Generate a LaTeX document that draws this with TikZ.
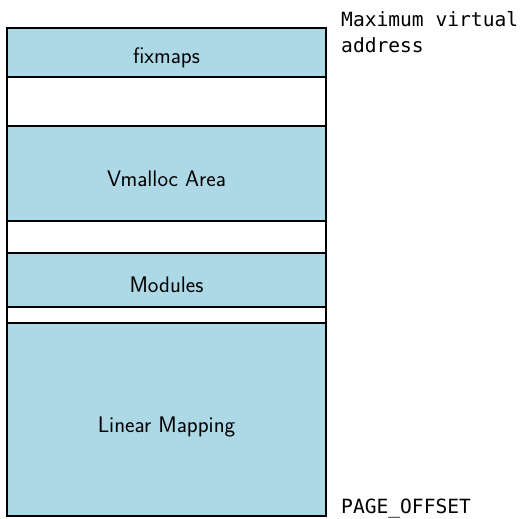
\documentclass[tikz,border=0pt]{standalone}
\usepackage{fontspec}
\newfontfamily\labelmono{DejaVu Sans Mono}
\definecolor{regionblue}{RGB}{173,216,230}
\begin{document}
\begin{tikzpicture}[x=1pt,y=-1pt,
  region/.style={draw=black,line width=2pt,fill=regionblue},
  gap/.style={draw=black,line width=2pt,fill=white},
  regiontext/.style={anchor=base,inner sep=0pt,font=\sffamily\fontsize{22.5}{26}\selectfont},
  sidelabel/.style={anchor=base west,inner sep=0pt,font=\labelmono\fontsize{19.6}{24}\selectfont}]
\useasboundingbox (0,0) rectangle (525,519);
% regions
\path[region] (7,28) rectangle (326,77);
\path[gap] (7,77) rectangle (326,126);
\path[region] (7,126) rectangle (326,221);
\path[gap] (7,221) rectangle (326,253);
\path[region] (7,253) rectangle (326,307);
\path[gap] (7,307) rectangle (326,323);
\path[region] (7,323) rectangle (326,516);
% labels inside
\node[regiontext] (fix) at (166.5,64) {fixmaps};
\node[regiontext] (vm) at (166.5,186) {Vmalloc Area};
\node[regiontext] (mod) at (166.5,292) {Modules};
\node[regiontext] (lin) at (166.5,432) {Linear Mapping};
% side labels
\node[sidelabel] (max1) at (341,27) {Maximum virtual};
\node[sidelabel] (max2) at (341,53) {address};
\node[sidelabel] (po) at (341,513) {PAGE\_OFFSET};
\end{tikzpicture}
\end{document}
